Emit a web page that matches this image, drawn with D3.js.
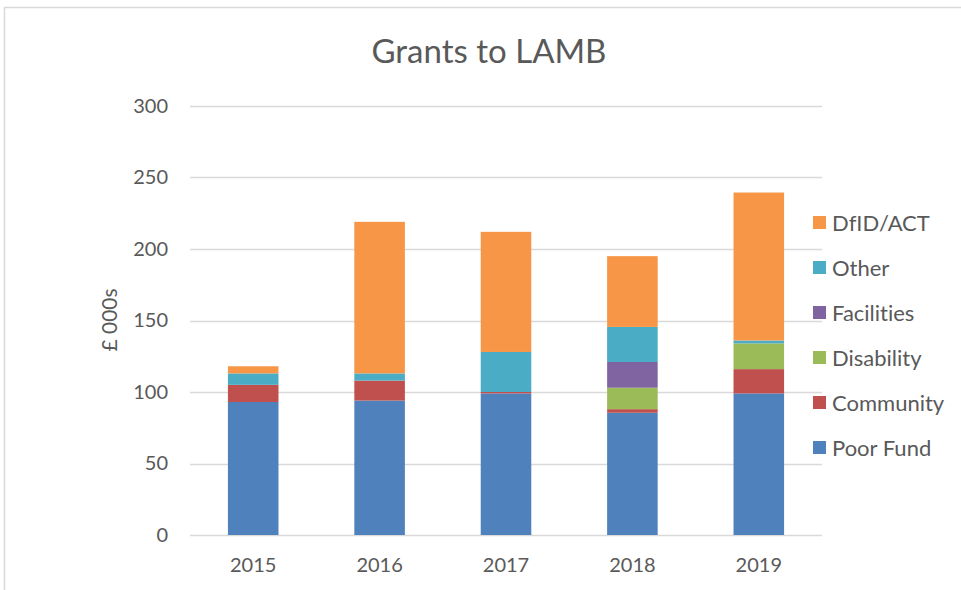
<!DOCTYPE html>
<html>
<head>
<meta charset="utf-8">
<script src="https://cdn.jsdelivr.net/npm/d3@7"></script>
<style>
  body { margin: 0; background: #fff; }
  text { font-family: Lato, Carlito, Calibri, "Open Sans", sans-serif; fill: #595959; font-variant-ligatures: none; }
</style>
</head>
<body>
<div id="chart"></div>
<script>
(function(){
    const years = ['2015', '2016', '2017', '2018', '2019'];
    const seriesNames = ['Poor Fund', 'Community', 'Disability', 'Facilities', 'Other', 'DfID/ACT'];
    const poorFund   = [93, 94, 99, 85.5, 99];
    const community  = [12, 14, 1, 2.5, 17];
    const disability = [0, 0, 0, 15, 18];
    const facilities = [0, 0, 0, 18, 0];
    const other      = [8, 5, 28, 24.5, 2];
    const dfid       = [5, 106, 84, 49.5, 103.5];
    const colors = ['#4F81BD', '#C0504D', '#9BBB59', '#8064A2', '#4BACC6', '#F79646'];
    const yTicks = [0, 50, 100, 150, 200, 250, 300];

    const W = 961, H = 590;
    const margin = { top: 106, right: 139, bottom: 55, left: 190 };
    const width = W - margin.left - margin.right;
    const height = H - margin.top - margin.bottom;

    const svg = d3.select('#chart')
        .append('svg')
            .attr('width', W)
            .attr('height', H);

    // chart frame (cut off at right and bottom)
    svg.append('rect')
        .attr('x', 4.5)
        .attr('y', 7.5)
        .attr('width', 1200)
        .attr('height', 1200)
        .style('fill', 'none')
        .style('stroke', '#d9d9d9')
        .style('stroke-width', 1.5);

    svg.append('text')
        .attr('x', 489)
        .attr('y', 63)
        .attr('text-anchor', 'middle')
        .style('font-size', '33px')
        .text('Grants to LAMB');

    const g = svg.append('g')
        .attr('transform', `translate(${margin.left}, ${margin.top})`);

    const table = years.map((y, i) => ({
        year: y,
        'Poor Fund': poorFund[i],
        'Community': community[i],
        'Disability': disability[i],
        'Facilities': facilities[i],
        'Other': other[i],
        'DfID/ACT': dfid[i]
    }));
    const stacked = d3.stack().keys(seriesNames)(table);

    const xScale = d3.scaleBand()
        .domain(years)
        .range([0, width])
        .paddingInner(0.6)
        .paddingOuter(0.3);

    const yScale = d3.scaleLinear()
        .domain([0, 300])
        .range([height, 0]);

    g.selectAll('.grid')
        .data(yTicks)
        .enter()
        .append('line')
            .attr('class', 'grid')
            .attr('x1', 0)
            .attr('x2', width)
            .attr('y1', d => Math.round(yScale(d)) + 0.5)
            .attr('y2', d => Math.round(yScale(d)) + 0.5)
            .style('stroke', '#d9d9d9')
            .style('stroke-width', 1.5);

    const yAxis = g.append('g')
        .call(d3.axisLeft(yScale).tickValues(yTicks).tickSize(0).tickPadding(22));
    yAxis.select('.domain').remove();
    yAxis.selectAll('text')
        .style('font-size', '20px')
        .style('fill', '#595959');

    const xAxis = g.append('g')
        .attr('transform', `translate(0, ${height})`)
        .call(d3.axisBottom(xScale).tickSize(0).tickPadding(23));
    xAxis.select('.domain').remove();
    xAxis.selectAll('text')
        .style('font-size', '20px')
        .style('fill', '#595959');

    g.selectAll('.series')
        .data(stacked)
        .enter()
        .append('g')
            .attr('class', 'series')
            .style('fill', (d, i) => colors[i])
        .selectAll('rect')
        .data(d => d)
        .enter()
        .append('rect')
            .attr('x', d => xScale(d.data.year))
            .attr('y', d => yScale(d[1]))
            .attr('width', xScale.bandwidth())
            .attr('height', d => yScale(d[0]) - yScale(d[1]));

    svg.append('text')
        .attr('transform', 'translate(117, 320) rotate(-90)')
        .attr('text-anchor', 'middle')
        .style('font-size', '21px')
        .text('£ 000s');

    // legend, top entry is last series
    const legend = svg.append('g')
        .attr('transform', 'translate(813, 223)');
    const items = seriesNames.slice().reverse();
    const legendRows = legend.selectAll('.item')
        .data(items)
        .enter()
        .append('g')
            .attr('class', 'item')
            .attr('transform', (d, i) => `translate(0, ${i * 45})`);
    legendRows.append('rect')
        .attr('x', 0)
        .attr('y', -7)
        .attr('width', 13)
        .attr('height', 13)
        .style('fill', d => colors[seriesNames.indexOf(d)]);
    legendRows.append('text')
        .attr('x', 19)
        .attr('y', 8)
        .style('font-size', '22px')
        .text(d => d);
}())
</script>
</body>
</html>
